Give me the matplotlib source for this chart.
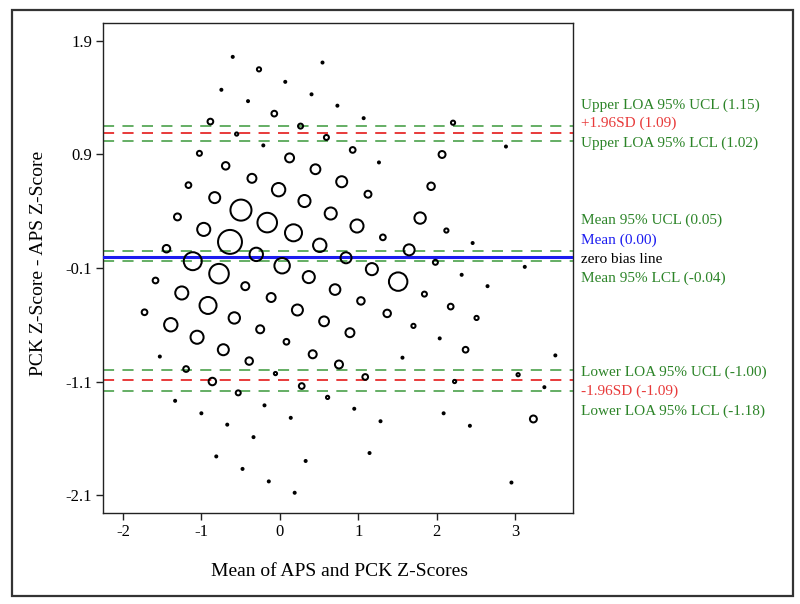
import numpy as np
import matplotlib
matplotlib.use("Agg")
import matplotlib.pyplot as plt
from matplotlib.patches import Rectangle

# ---- data: one entry per bubble (APS z, PCK z, number of subjects) ----
aps_z = ([-1.48] * 9 + [-1.09] * 10 + [-0.70] * 11 + [-0.31] * 12 + [0.07] * 12 +
         [0.46] * 12 + [0.85] * 10 + [1.23] * 8 + [1.62] * 9 + [2.01] * 7 +
         [2.40] * 5 + [2.78] * 5 + [3.17] * 2 + [3.56] * 1 + [3.95] * 4)
pck_z = [
    0.28, -0.01, -0.29, -0.57, -0.85, -1.13, -1.41, -1.69, -1.97,
    0.56, 0.28, -0.01, -0.29, -0.57, -0.85, -1.13, -1.41, -1.69, -1.97,
    0.84, 0.56, 0.28, -0.01, -0.29, -0.57, -0.85, -1.13, -1.41, -1.69, -1.97,
    1.40, 1.12, 0.84, 0.56, 0.28, -0.01, -0.29, -0.57, -0.85, -1.13, -1.41, -1.69,
    1.40, 1.12, 0.84, 0.56, 0.28, -0.01, -0.29, -0.57, -0.85, -1.13, -1.41, -1.69,
    1.68, 1.40, 1.12, 0.84, 0.56, 0.28, -0.01, -0.29, -0.57, -0.85, -1.13, -1.41,
    1.68, 1.40, 1.12, 0.84, 0.56, 0.28, -0.01, -0.29, -0.57, -1.13,
    1.40, 1.12, 0.84, 0.56, 0.28, -0.01, -0.57, -0.85,
    2.80, 2.52, 2.24, 1.96, 1.68, 1.40, 1.12, 0.56, 0.28,
    2.24, 1.96, 1.68, 1.40, 1.12, 0.56, 0.28,
    3.37, 2.52, 2.24, 1.96, 1.68,
    2.52, 2.24, 1.96, 1.68, 1.40,
    3.08, 1.68,
    2.52,
    3.08, 2.80, 2.52, 1.96,
]
freq = [
    1, 1, 5, 4, 5, 7, 8, 5, 5,
    3, 1, 2, 8, 16, 22, 40, 22, 23, 1,
    1, 5, 1, 11, 54, 69, 47, 36, 22, 5, 1,
    1, 1, 4, 11, 23, 47, 23, 9, 17, 16, 8, 1,
    1, 4, 13, 19, 36, 30, 11, 9, 8, 4, 1, 1,
    1, 5, 16, 19, 23, 19, 16, 5, 2, 1, 1, 1,
    1, 7, 22, 16, 15, 13, 9, 5, 1, 1,
    5, 19, 8, 11, 9, 2, 1, 1,
    3, 7, 8, 17, 16, 42, 8, 5, 1,
    3, 4, 4, 3, 1, 1, 1,
    1, 1, 1, 5, 1,
    1, 3, 5, 2, 1,
    1, 1,
    2,
    1, 1, 7, 1,
]

x_ticks = [-2, -1, 0, 1, 2, 3]
y_ticks = [-2.1, -1.1, -0.1, 0.9, 1.9]

mean_bias = 0.00
upper_loa = 1.09
lower_loa = -1.09
upper_ucl, upper_lcl = 1.15, 1.02
mean_ucl, mean_lcl = 0.05, -0.04
lower_ucl, lower_lcl = -1.00, -1.18

# ---- style ----
plt.rcParams['font.family'] = ['Liberation Serif', 'DejaVu Serif']
plt.rcParams['lines.scale_dashes'] = False

W, H = 800, 604
fig = plt.figure(figsize=(W / 100, H / 100), dpi=100)

def fx(px):
    return px / W

def fy(py):
    return 1 - py / H

ax_l, ax_r, ax_t, ax_b = 103.3, 573.3, 22.7, 513.3
ax = fig.add_axes([fx(ax_l), fy(ax_b), (ax_r - ax_l) / W, (ax_b - ax_t) / H])

aps = np.array(aps_z)
pck = np.array(pck_z)
n = np.array(freq)
mean_sc = (aps + pck) / 2
diff_sc = pck - aps

lw_px = 2.0
d_center_px = 3.0 * np.sqrt(n) - 1.0
d_pt = d_center_px * 72 / 100
ax.scatter(mean_sc, diff_sc, s=d_pt ** 2, facecolors='none', edgecolors='black',
           linewidths=lw_px * 0.72, zorder=4)

green = '#3a983a'
red = '#e83a3a'
blue = '#1c1cf0'
dash = (0, (8, 6))

for v in (upper_ucl, upper_lcl, mean_ucl, mean_lcl, lower_ucl, lower_lcl):
    ax.axhline(v, color=green, lw=1.1, ls=dash, zorder=2)
for v in (upper_loa, lower_loa):
    ax.axhline(v, color=red, lw=1.4, ls=dash, zorder=2)
ax.axhline(0.0, color='black', lw=1.0, zorder=2)
ax.axhline(mean_bias, color=blue, lw=2.2, zorder=3)

ax.set_xlim(-2.251, 3.744)
ax.set_ylim(-2.261, 2.061)
ax.set_xticks(x_ticks)
ax.set_xticklabels([f'{t:g}' for t in x_ticks])
ax.set_yticks(y_ticks)
ax.set_yticklabels([f'{t:.1f}' for t in y_ticks])
ax.tick_params(direction='out', length=5, width=1.0, labelsize=12, pad=3, color='#222')
for s in ax.spines.values():
    s.set_linewidth(1.0)
    s.set_color('#222')

fig.text(fx(339.7), fy(571), 'Mean of APS and PCK Z-Scores', fontsize=14,
         ha='center', va='center')
fig.text(fx(39), fy(263), 'PCK Z-Score - APS Z-Score', fontsize=14,
         ha='center', va='center', rotation=90)

tgreen = '#2c8428'
labels = [
    (105.0, f'Upper LOA 95% UCL ({upper_ucl:.2f})', tgreen),
    (123.3, f'+1.96SD ({upper_loa:.2f})', red),
    (143.3, f'Upper LOA 95% LCL ({upper_lcl:.2f})', tgreen),
    (220.0, f'Mean 95% UCL ({mean_ucl:.2f})', tgreen),
    (240.0, f'Mean ({mean_bias:.2f})', blue),
    (259.5, 'zero bias line', 'black'),
    (278.3, f'Mean 95% LCL ({mean_lcl:.2f})', tgreen),
    (372.7, f'Lower LOA 95% UCL ({lower_ucl:.2f})', tgreen),
    (391.7, f'-1.96SD ({lower_loa:.2f})', red),
    (411.0, f'Lower LOA 95% LCL ({lower_lcl:.2f})', tgreen),
]
for py, txt, col in labels:
    fig.text(fx(581.0), fy(py), txt, color=col, fontsize=11, ha='left', va='center')

fig.add_artist(Rectangle((fx(11.7), fy(595.7)), (792.7 - 11.7) / W, (595.7 - 10) / H,
                         transform=fig.transFigure, fill=False, lw=1.6, ec='#333'))

fig.savefig('out.png', dpi=100)
